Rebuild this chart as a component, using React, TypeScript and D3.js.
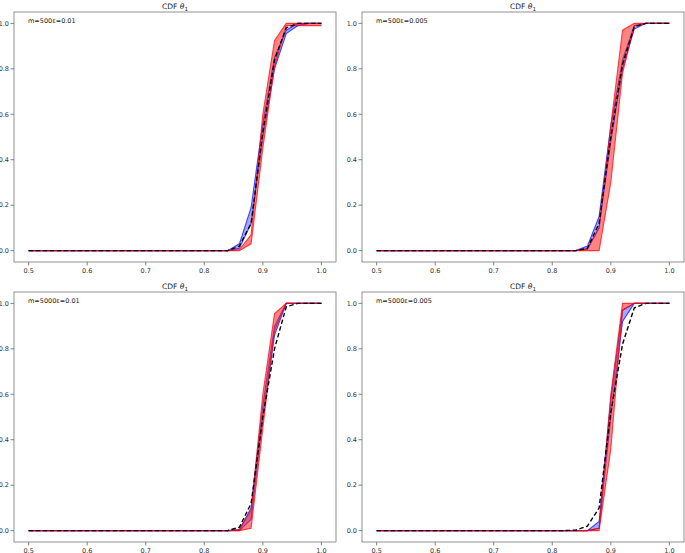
import React from "react";
import * as d3 from "d3";

const xs = [0.5, 0.52, 0.54, 0.56, 0.58, 0.6, 0.62, 0.64, 0.66, 0.68, 0.7, 0.72, 0.74, 0.76, 0.78, 0.8, 0.82, 0.84, 0.86, 0.88, 0.9, 0.92, 0.94, 0.96, 0.98, 1.0];
const xTicks = [0.5, 0.6, 0.7, 0.8, 0.9, 1.0];
const yTicks = [0.0, 0.2, 0.4, 0.6, 0.8, 1.0];
const labels = ["m=500\u03b5=0.01", "m=500\u03b5=0.005", "m=5000\u03b5=0.01", "m=5000\u03b5=0.005"];

// prefix of 17 zeros (0.50 .. 0.82), then values from 0.84 .. 1.00
const Z = [0, 0, 0, 0, 0, 0, 0, 0, 0, 0, 0, 0, 0, 0, 0, 0, 0];

// Panel 1
const black1 = [...Z, 0, 0.02, 0.12, 0.52, 0.84, 0.98, 1, 1, 1];
const blueLo1 = [...Z, 0, 0.01, 0.12, 0.5, 0.8, 0.955, 0.99, 1, 1];
const blueHi1 = [...Z, 0, 0.03, 0.19, 0.56, 0.85, 0.97, 1, 1, 1];
const redLo1 = [...Z, 0, 0, 0.03, 0.45, 0.81, 0.99, 0.99, 0.99, 0.99];
const redHi1 = [...Z, 0, 0.005, 0.07, 0.6, 0.925, 1, 1, 1, 1];
// Panel 2
const black2 = [...Z, 0, 0.01, 0.12, 0.5, 0.82, 0.985, 1, 1, 1];
const blueLo2 = [...Z, 0, 0.005, 0.1, 0.48, 0.8, 0.975, 1, 1, 1];
const blueHi2 = [...Z, 0, 0.02, 0.15, 0.55, 0.84, 0.99, 1, 1, 1];
const redLo2 = [...Z, 0, 0, 0, 0.3, 0.78, 0.99, 1, 1, 1];
const redHi2 = [...Z, 0, 0.01, 0.1, 0.55, 0.97, 1, 1, 1, 1];
// Panel 3
const black3 = [...Z, 0, 0.015, 0.12, 0.5, 0.8, 0.985, 1, 1, 1];
const blueLo3 = [...Z, 0, 0, 0.05, 0.5, 0.86, 1, 1, 1, 1];
const blueHi3 = [...Z, 0, 0.005, 0.1, 0.55, 0.9, 1, 1, 1, 1];
const redLo3 = [...Z, 0, 0, 0.01, 0.45, 0.88, 1, 1, 1, 1];
const redHi3 = [...Z, 0, 0.005, 0.09, 0.6, 0.955, 1, 1, 1, 1];
// Panel 4
const black4 = [...Z, 0.002, 0.02, 0.1, 0.52, 0.82, 0.98, 1, 1, 1];
const blueLo4 = [...Z, 0, 0, 0.01, 0.5, 0.92, 1, 1, 1, 1];
const blueHi4 = [...Z, 0, 0, 0.04, 0.58, 0.97, 1, 1, 1, 1];
const redLo4 = [...Z, 0, 0, 0, 0.36, 0.97, 1, 1, 1, 1];
const redHi4 = [...Z, 0, 0, 0.01, 0.6, 1, 1, 1, 1, 1];

const panels = [
  { black: black1, blueLo: blueLo1, blueHi: blueHi1, redLo: redLo1, redHi: redHi1 },
  { black: black2, blueLo: blueLo2, blueHi: blueHi2, redLo: redLo2, redHi: redHi2 },
  { black: black3, blueLo: blueLo3, blueHi: blueHi3, redLo: redLo3, redHi: redHi3 },
  { black: black4, blueLo: blueLo4, blueHi: blueHi4, redLo: redLo4, redHi: redHi4 },
];

const boxes = [
  { x0: 14, x1: 336, y0: 12, y1: 262 },
  { x0: 362, x1: 684, y0: 12, y1: 262 },
  { x0: 14, x1: 336, y0: 292, y1: 542 },
  { x0: 362, x1: 684, y0: 292, y1: 542 },
];

const FONT = "DejaVu Sans, sans-serif";

function Panel({ idx }: { idx: number }) {
  const b = boxes[idx];
  const p = panels[idx];
  const x = d3.scaleLinear().domain([0.475, 1.025]).range([b.x0, b.x1]);
  const y = d3.scaleLinear().domain([-0.05, 1.05]).range([b.y1, b.y0]);
  const line = (vals: number[]) =>
    d3.line<number>().x((_, i) => x(xs[i])).y((v) => y(v))(vals) || "";
  const area = (lo: number[], hi: number[]) =>
    d3
      .area<number>()
      .x((_, i) => x(xs[i]))
      .y0((_, i) => y(lo[i]))
      .y1((_, i) => y(hi[i]))(xs.map((_, i) => i)) || "";
  const cx = (b.x0 + b.x1) / 2;
  return (
    <g>
      <path d={area(p.blueLo, p.blueHi)} fill="#3344ff" fillOpacity={0.45} />
      <path d={line(p.blueLo)} fill="none" stroke="#0000ff" strokeOpacity={0.7} strokeWidth={1.1} />
      <path d={line(p.blueHi)} fill="none" stroke="#0000ff" strokeOpacity={0.7} strokeWidth={1.1} />
      <path d={area(p.redLo, p.redHi)} fill="#ff2020" fillOpacity={0.55} />
      <path d={line(p.redLo)} fill="none" stroke="#ff0000" strokeOpacity={0.7} strokeWidth={1.1} />
      <path d={line(p.redHi)} fill="none" stroke="#ff0000" strokeOpacity={0.7} strokeWidth={1.1} />
      <path d={line(p.black)} fill="none" stroke="#000" strokeWidth={1.4} strokeDasharray="4.5,2.5" />
      <rect x={b.x0} y={b.y0} width={b.x1 - b.x0} height={b.y1 - b.y0} fill="none" stroke="#777" strokeWidth={0.8} />
      {xTicks.map((t) => (
        <g key={"x" + t}>
          <line x1={x(t)} x2={x(t)} y1={b.y1} y2={b.y1 + 3.5} stroke="#666" strokeWidth={0.8} />
          <text x={x(t)} y={b.y1 + 10.5} textAnchor="middle" fontSize={6.5} fontFamily={FONT} fill="#333">
            {t.toFixed(1)}
          </text>
        </g>
      ))}
      {yTicks.map((t) => (
        <g key={"y" + t}>
          <line x1={b.x0 - 3.5} x2={b.x0} y1={y(t)} y2={y(t)} stroke="#666" strokeWidth={0.8} />
          <text x={b.x0 - 5} y={y(t) + 2.3} textAnchor="end" fontSize={6.5} fontFamily={FONT} fill="#333">
            {t.toFixed(1)}
          </text>
        </g>
      ))}
      <text x={cx} y={b.y0 - 3} textAnchor="middle" fontSize={7.5} fontFamily={FONT} fill="#222">
        CDF <tspan fontStyle="italic">θ</tspan>
        <tspan fontSize={5.5} dy={1.5}>1</tspan>
      </text>
      <text x={b.x0 + 14} y={b.y0 + 11} fontSize={6.5} fontFamily={FONT} fill="#222">
        {labels[idx]}
      </text>
    </g>
  );
}

export default function App() {
  return (
    <svg
      width={685}
      height={553}
      style={{ position: "absolute", left: 0, top: 0, background: "#fff" }}
    >
      <rect width={685} height={553} fill="#fff" />
      {[0, 1, 2, 3].map((i) => (
        <Panel key={i} idx={i} />
      ))}
    </svg>
  );
}
